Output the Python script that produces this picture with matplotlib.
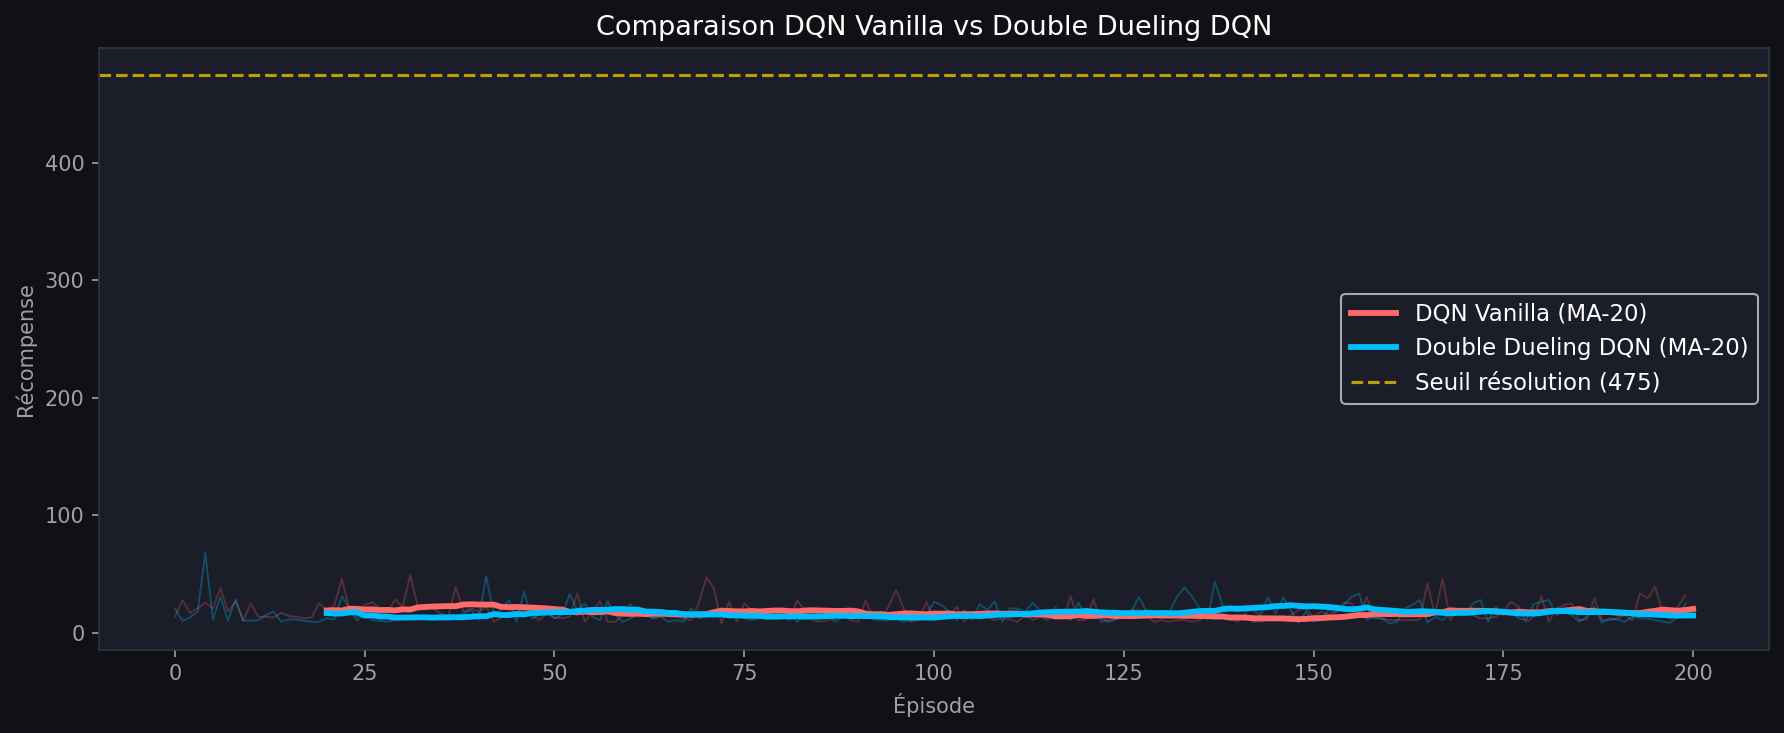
import numpy as np
import pandas as pd
import matplotlib
matplotlib.use("Agg")
import matplotlib.pyplot as plt

# rewards per episode (0..199)
vanilla_rewards = [
    13.6, 27.8, 17.0, 20.7, 25.5, 20.7, 37.8, 17.9, 26.4, 10.2,
    25.0, 13.6, 13.6, 13.0, 17.0, 14.2, 13.6, 12.2, 13.0, 25.0,
    19.3, 23.5, 45.7, 19.3, 13.6, 23.5, 25.8, 20.7, 17.9, 28.4,
    22.1, 49.0, 22.1, 20.7, 20.7, 16.4, 13.6, 39.2, 17.9, 20.7,
    17.9, 22.1, 9.3, 13.0, 17.9, 17.9, 19.3, 15.0, 10.7, 16.4,
    13.0, 12.2, 13.6, 33.5, 9.3, 17.9, 27.0, 9.3, 9.3, 15.0,
    24.4, 13.6, 15.0, 13.0, 15.0, 13.6, 13.6, 12.0, 10.7, 25.0,
    47.1, 37.8, 7.9, 26.4, 9.3, 25.0, 19.3, 17.9, 16.4, 15.0,
    13.6, 10.7, 27.8, 17.9, 10.7, 9.3, 10.7, 12.2, 16.4, 10.7,
    9.3, 27.8, 10.7, 12.2, 22.1, 36.3, 20.7, 9.3, 10.7, 26.4,
    10.7, 15.0, 13.6, 22.1, 9.3, 15.0, 16.4, 13.6, 10.7, 13.0,
    11.3, 9.3, 15.0, 10.7, 13.6, 10.7, 22.1, 11.3, 31.2, 10.7,
    10.7, 28.4, 9.3, 10.7, 12.2, 12.2, 19.3, 19.3, 15.0, 9.3,
    10.7, 9.3, 10.7, 10.7, 9.3, 10.7, 13.6, 12.2, 13.6, 12.2,
    9.3, 16.4, 9.3, 9.3, 10.7, 12.2, 11.3, 15.0, 19.3, 20.7,
    13.6, 17.9, 15.0, 17.9, 25.5, 25.0, 13.6, 30.6, 12.2, 12.2,
    10.7, 10.7, 10.7, 10.7, 11.3, 42.0, 15.0, 46.3, 10.7, 20.7,
    16.4, 15.0, 12.2, 12.2, 13.6, 17.9, 26.4, 22.1, 9.3, 13.6,
    31.2, 9.3, 20.7, 23.5, 25.0, 10.7, 11.3, 29.2, 10.7, 10.7,
    12.2, 15.0, 10.7, 33.5, 29.2, 39.2, 16.4, 12.2, 22.1, 32.0,
]
dueling_rewards = [
    20.7, 9.9, 13.0, 17.9, 68.0, 11.3, 30.6, 10.2, 28.7, 10.2,
    10.2, 10.7, 15.0, 17.9, 9.3, 11.3, 11.3, 10.2, 9.3, 9.3,
    12.2, 11.3, 31.2, 20.7, 10.2, 16.4, 10.7, 10.2, 9.3, 10.7,
    12.2, 13.6, 13.6, 14.0, 13.0, 12.2, 10.7, 13.6, 16.4, 19.3,
    10.7, 48.3, 16.4, 19.3, 27.8, 9.3, 34.9, 12.2, 15.0, 17.9,
    12.2, 15.0, 32.9, 19.3, 25.0, 13.6, 10.7, 27.0, 15.0, 9.3,
    12.2, 15.0, 15.0, 12.2, 13.6, 9.3, 10.7, 9.3, 20.7, 12.2,
    13.6, 15.0, 16.4, 20.7, 17.9, 12.2, 10.7, 12.2, 15.0, 13.6,
    13.6, 15.0, 9.3, 15.0, 13.6, 17.9, 15.0, 9.3, 13.6, 15.0,
    13.6, 13.6, 12.2, 10.7, 10.7, 12.2, 9.3, 10.7, 12.2, 15.0,
    26.4, 23.5, 17.9, 10.7, 19.3, 10.7, 24.4, 19.3, 26.4, 9.3,
    20.7, 20.7, 17.9, 25.5, 17.9, 15.0, 12.2, 15.0, 10.7, 25.5,
    15.0, 12.2, 12.2, 9.3, 11.3, 15.0, 17.9, 30.6, 17.9, 13.6,
    16.4, 17.9, 30.6, 38.6, 30.6, 20.7, 10.7, 43.5, 23.5, 20.7,
    17.9, 23.5, 19.3, 15.0, 30.1, 16.4, 30.1, 19.3, 8.5, 17.9,
    9.3, 10.7, 19.3, 17.9, 23.5, 30.6, 33.5, 11.3, 13.0, 12.2,
    7.9, 9.3, 20.7, 23.5, 27.8, 8.5, 13.6, 10.7, 16.4, 19.3,
    15.0, 25.0, 27.8, 9.3, 22.1, 15.0, 17.9, 12.2, 10.7, 24.4,
    26.4, 27.8, 15.0, 17.9, 15.0, 9.3, 13.6, 22.1, 8.5, 12.2,
    11.3, 9.3, 13.6, 12.2, 12.2, 10.7, 9.3, 8.5, 13.6, 25.0,
]
window = 20
threshold = 475

episodes = np.arange(len(vanilla_rewards))
ma_x = np.arange(window, len(vanilla_rewards) + 1)
vanilla_ma = np.convolve(vanilla_rewards, np.ones(window) / window, mode="valid")
dueling_ma = np.convolve(dueling_rewards, np.ones(window) / window, mode="valid")

fig = plt.figure(figsize=(1784 / 150, 733 / 150), dpi=150, facecolor="#101115")
ax = fig.add_axes([0.0555, 0.1136, 0.9361, 0.8212])
ax.set_facecolor("#1b1d28")

red = "#ff6b6b"
blue = "#00bfff"
ax.plot(episodes, vanilla_rewards, color=red, alpha=0.25, linewidth=0.9)
ax.plot(episodes, dueling_rewards, color=blue, alpha=0.3, linewidth=0.9)
ax.plot(ma_x, vanilla_ma, color=red, linewidth=2.8, label="DQN Vanilla (MA-20)")
ax.plot(ma_x, dueling_ma, color=blue, linewidth=2.8, label="Double Dueling DQN (MA-20)")
ax.axhline(threshold, color="gold", linestyle="--", alpha=0.7, linewidth=1.5,
           label="Seuil résolution (475)")

ax.set_xlim(-10, 210)
ax.set_ylim(-14.5, 498)
ax.set_title("Comparaison DQN Vanilla vs Double Dueling DQN", color="white", fontsize=13)
ax.set_xlabel("Épisode", color="#a0a0a8", fontsize=10)
ax.set_ylabel("Récompense", color="#a0a0a8", fontsize=10)
ax.tick_params(colors="#a0a0a8", labelsize=10)
for s in ax.spines.values():
    s.set_color("#33353d")

leg = ax.legend(loc="center right", facecolor="#1b1d28", edgecolor="#aaaaaa",
                fontsize=11, framealpha=1)
for t in leg.get_texts():
    t.set_color("white")

fig.savefig("out.png", dpi=150, facecolor=fig.get_facecolor())
